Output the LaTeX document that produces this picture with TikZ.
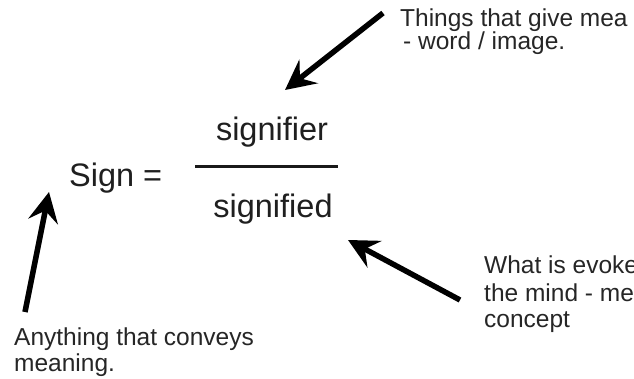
\documentclass[tikz,border=0pt]{standalone}
\usepackage{fontspec}
\setmainfont{Liberation Sans}
\usetikzlibrary{arrows.meta}
\begin{document}
\begin{tikzpicture}[x=1pt,y=-1pt,
  bigtxt/.style={inner sep=0pt,anchor=base west,font=\fontsize{32.5}{38}\selectfont,text=black!88},
  smalltxt/.style={inner sep=0pt,anchor=base west,font=\fontsize{24.5}{29}\selectfont,text=black!85},
  fatarrow/.style={line width=5.5pt,-{Stealth[length=30pt,width=30pt,inset=11pt]}}]
\useasboundingbox (0,0) rectangle (634,379);
\clip (0,0) rectangle (634,379);
\fill[white] (0,0) rectangle (634,379);
% main formula
\node[bigtxt] (sign) at (69,187) {Sign =};
\node[bigtxt,anchor=base] (sfier) at (272,141) {signifier};
\node[bigtxt,anchor=base] (sfied) at (273,218) {signified};
\coordinate (barL) at (195,167);
\coordinate (barR) at (338,167);
\draw[line width=3pt,black!90] (barL) -- (barR);
% annotations
\node[smalltxt] (t1) at (400,27) {Things that give mea};
\node[smalltxt] (t2) at (403,50) {- word / image.};
\node[smalltxt] (a1) at (14,345) {Anything that conveys};
\node[smalltxt] (a2) at (14,371) {meaning.};
\node[smalltxt] (w1) at (484,273) {What is evoke};
\node[smalltxt] (w2) at (484,301) {the mind - men};
\node[smalltxt] (w3) at (484,327) {concept};
% arrows
\coordinate (t1tail) at (383,13);
\coordinate (t1tip) at (285,90);
\coordinate (a1tail) at (25,312);
\coordinate (a1tip) at (49,192);
\coordinate (w1tail) at (460,300);
\coordinate (w1tip) at (348,240);
\draw[fatarrow] (t1tail) -- (t1tip);
\draw[fatarrow] (a1tail) -- (a1tip);
\draw[fatarrow] (w1tail) -- (w1tip);
\end{tikzpicture}
\end{document}
